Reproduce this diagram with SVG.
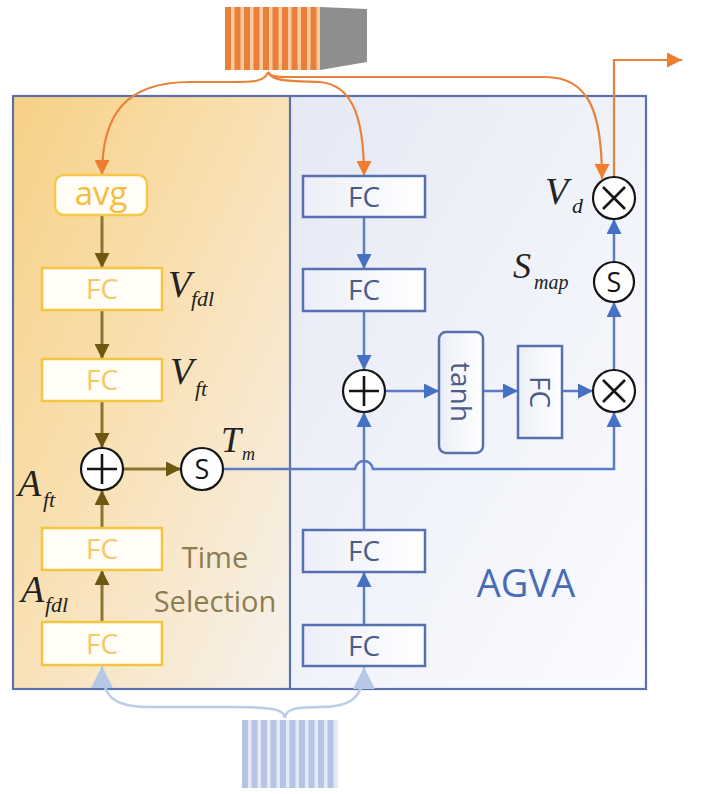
<svg xmlns="http://www.w3.org/2000/svg" width="702" height="794" viewBox="0 0 702 794">
<defs>
<linearGradient id="gLeft" x1="0" y1="0" x2="1" y2="1">
<stop offset="0" stop-color="#f7d085"/>
<stop offset="0.45" stop-color="#f9e0b2"/>
<stop offset="1" stop-color="#f6f2ee"/>
</linearGradient>
<linearGradient id="gRight" x1="0" y1="0" x2="1" y2="1">
<stop offset="0" stop-color="#e5e9f4"/>
<stop offset="1" stop-color="#fbfcff"/>
</linearGradient>
<linearGradient id="gBoxB" x1="0" y1="0" x2="1" y2="0">
<stop offset="0" stop-color="#eceff8"/>
<stop offset="1" stop-color="#ffffff"/>
</linearGradient>
<marker id="aO" viewBox="0 0 10 10" refX="10" refY="5" markerWidth="15" markerHeight="15" markerUnits="userSpaceOnUse" orient="auto"><path d="M0,0 L10,5 L0,10 z" fill="#ee7d2e"/></marker>
<marker id="aG" viewBox="0 0 10 10" refX="10" refY="5" markerWidth="15" markerHeight="15" markerUnits="userSpaceOnUse" orient="auto"><path d="M0,0 L10,5 L0,10 z" fill="#6e5712"/></marker>
<marker id="aB" viewBox="0 0 10 10" refX="10" refY="5" markerWidth="15" markerHeight="15" markerUnits="userSpaceOnUse" orient="auto"><path d="M0,0 L10,5 L0,10 z" fill="#4670c4"/></marker>
<marker id="aL" viewBox="0 0 10 10" refX="10" refY="5" markerWidth="22" markerHeight="22" markerUnits="userSpaceOnUse" orient="auto"><path d="M0,0 L10,5 L0,10 z" fill="#b5c8e5"/></marker>
<style>
.ybox{fill:#fffdf5;stroke:#f2c640;stroke-width:2.5}
.ytxt{font-family:"Open Sans","Liberation Sans",sans-serif;font-size:28px;fill:#f2c868;text-anchor:middle}
.bbox{fill:url(#gBoxB);stroke:#5670b0;stroke-width:2.5}
.btxt{font-family:"Open Sans","Liberation Sans",sans-serif;font-size:28px;fill:#4c5c86;text-anchor:middle}
.circ{fill:#ffffff;stroke:#151515;stroke-width:2.2}
.sym{stroke:#151515;stroke-width:2.6;fill:none}
.stxt{font-family:"Open Sans","Liberation Sans",sans-serif;font-size:27px;fill:#151515;text-anchor:middle}
.lab{font-family:"Liberation Serif",serif;font-style:italic;fill:#222}
.cO{fill:none;stroke:#e8823a;stroke-width:2.2}
.cG{fill:none;stroke:#8a7430;stroke-width:3}
.cB{fill:none;stroke:#5a7dc4;stroke-width:2.5}
.cL{fill:none;stroke:#bccde6;stroke-width:2.5}
</style>
</defs>

<!-- panels -->
<g id="panel-time">
<rect x="13" y="96" width="277" height="593" fill="url(#gLeft)"/>
<text x="215" y="568" font-family="'Open Sans','Liberation Sans',sans-serif" font-size="29" fill="#8c7d52" text-anchor="middle">Time</text>
<text x="215" y="612" font-family="'Open Sans','Liberation Sans',sans-serif" font-size="29" fill="#8c7d52" text-anchor="middle">Selection</text>
</g>
<g id="panel-agva">
<rect x="290" y="96" width="356" height="593" fill="url(#gRight)"/>
<text x="526" y="597" font-family="'Open Sans','Liberation Sans',sans-serif" font-size="38" fill="#4a6cb4" text-anchor="middle">AGVA</text>
</g>
<g id="frame" fill="none" stroke="#5a72ac" stroke-width="2.2">
<rect x="13" y="96" width="633" height="593"/>
<line x1="290" y1="96" x2="290" y2="689"/>
</g>

<!-- input features -->
<g id="feat-top">
<polygon points="320,7 367,9 367,62 320,70" fill="#8e8e8e"/>
<rect x="225" y="7" width="95" height="63" fill="#fbc8a0"/>
<g fill="#e8803a">
<rect x="225" y="7" width="6" height="63"/><rect x="234.5" y="7" width="6" height="63"/><rect x="244" y="7" width="6" height="63"/><rect x="253.5" y="7" width="6" height="63"/><rect x="263" y="7" width="6" height="63"/><rect x="272.5" y="7" width="6" height="63"/><rect x="282" y="7" width="6" height="63"/><rect x="291.5" y="7" width="6" height="63"/><rect x="301" y="7" width="6" height="63"/><rect x="310.5" y="7" width="6" height="63"/>
</g>
</g>
<g id="feat-bottom">
<rect x="242" y="720" width="96" height="68" fill="#e2e8f5"/>
<g fill="#b6c4e3">
<rect x="242" y="720" width="6" height="68"/><rect x="251.5" y="720" width="6" height="68"/><rect x="261" y="720" width="6" height="68"/><rect x="270.5" y="720" width="6" height="68"/><rect x="280" y="720" width="6" height="68"/><rect x="289.5" y="720" width="6" height="68"/><rect x="299" y="720" width="6" height="68"/><rect x="308.5" y="720" width="6" height="68"/><rect x="318" y="720" width="6" height="68"/><rect x="327.5" y="720" width="6" height="68"/>
</g>
</g>

<!-- connectors -->
<g id="connectors">
<path class="cO" d="M268,72 C265,82 252,82 232,82 L190,82 C125,82 102,115 102,175" marker-end="url(#aO)"/>
<path class="cO" d="M268,72 C272,82 292,81 320,82 C350,85 364,112 364,176" marker-end="url(#aO)"/>
<path class="cO" d="M268,72 C271,77 278,77 290,77 L545,77 C588,77 602,110 602,179" marker-end="url(#aO)"/>
<path class="cO" d="M614,177 L614,60 L682,60" marker-end="url(#aO)"/>

<path class="cG" d="M102,215 L102,268" marker-end="url(#aG)"/>
<path class="cG" d="M102,310 L102,359" marker-end="url(#aG)"/>
<path class="cG" d="M102,401 L102,448" marker-end="url(#aG)"/>
<path class="cG" d="M102,528 L102,490" marker-end="url(#aG)"/>
<path class="cG" d="M102,622 L102,570" marker-end="url(#aG)"/>
<path class="cG" d="M123,469 L181,469" marker-end="url(#aG)"/>

<path class="cB" d="M364,217 L364,269" marker-end="url(#aB)"/>
<path class="cB" d="M364,311 L364,370" marker-end="url(#aB)"/>
<path class="cB" d="M364,530 L364,412" marker-end="url(#aB)"/>
<path class="cB" d="M364,625 L364,572" marker-end="url(#aB)"/>
<path class="cB" d="M385,391 L439,391" marker-end="url(#aB)"/>
<path class="cB" d="M483,391 L518,391" marker-end="url(#aB)"/>
<path class="cB" d="M562,391 L593,391" marker-end="url(#aB)"/>
<path class="cB" d="M614,370 L614,302" marker-end="url(#aB)"/>
<path class="cB" d="M614,262 L614,219" marker-end="url(#aB)"/>
<path class="cB" d="M223,469 L355,469 Q357,461 364,461 Q371,461 373,469 L614,469 L614,412" marker-end="url(#aB)"/>

<path class="cL" d="M285,718 C285,708 265,707 230,707 L150,707 C112,707 102,696 102,666" marker-end="url(#aL)"/>
<path class="cL" d="M285,718 C285,708 300,707 320,707 C352,707 364,697 364,667" marker-end="url(#aL)"/>
</g>

<!-- Time selection branch -->
<g id="avg"><rect x="55" y="175" width="92" height="40" rx="9" fill="#fffdf5" stroke="#f4c848" stroke-width="2.5"/><text x="101" y="205" font-family="'Open Sans','Liberation Sans',sans-serif" font-size="33" fill="#f3bf3a" text-anchor="middle">avg</text></g>
<g id="fc-vfdl"><rect class="ybox" x="42" y="268" width="120" height="42"/><text class="ytxt" x="102" y="299">FC</text></g>
<g id="fc-vft"><rect class="ybox" x="42" y="359" width="120" height="42"/><text class="ytxt" x="102" y="390">FC</text></g>
<g id="add-left"><circle class="circ" cx="102" cy="469" r="21"/><path class="sym" d="M87,469 H117 M102,454 V484"/></g>
<g id="sig-left"><circle class="circ" cx="202" cy="469" r="21"/><text class="stxt" x="202" y="479">S</text></g>
<g id="fc-aft"><rect class="ybox" x="42" y="528" width="120" height="42"/><text class="ytxt" x="102" y="559">FC</text></g>
<g id="fc-afdl"><rect class="ybox" x="42" y="622" width="120" height="43"/><text class="ytxt" x="102" y="654">FC</text></g>

<!-- AGVA branch -->
<g id="fc-r1"><rect class="bbox" x="303" y="176" width="122" height="41"/><text class="btxt" x="364" y="207">FC</text></g>
<g id="fc-r2"><rect class="bbox" x="303" y="269" width="122" height="42"/><text class="btxt" x="364" y="300">FC</text></g>
<g id="add-right"><circle class="circ" cx="364" cy="391" r="21"/><path class="sym" d="M349,391 H379 M364,376 V406"/></g>
<g id="tanh"><rect class="bbox" x="439" y="332" width="44" height="121" rx="7"/><text class="btxt" transform="translate(461,392) rotate(90)" dy="10" font-size="32">tanh</text></g>
<g id="fc-rot"><rect class="bbox" x="518" y="346" width="44" height="92"/><text class="btxt" transform="translate(540,392) rotate(90)" dy="10">FC</text></g>
<g id="mul-mid"><circle class="circ" cx="614" cy="391" r="21"/><path class="sym" d="M603,380 L625,402 M625,380 L603,402"/></g>
<g id="sig-right"><circle class="circ" cx="614" cy="282" r="20"/><text class="stxt" x="614" y="292">S</text></g>
<g id="mul-top"><circle class="circ" cx="614" cy="198" r="21"/><path class="sym" d="M603,187 L625,209 M625,187 L603,209"/></g>
<g id="fc-r3"><rect class="bbox" x="303" y="530" width="122" height="42"/><text class="btxt" x="364" y="561">FC</text></g>
<g id="fc-r4"><rect class="bbox" x="303" y="625" width="122" height="41"/><text class="btxt" x="364" y="656">FC</text></g>

<!-- labels -->
<g id="labels">
<text class="lab" x="168" y="297" font-size="38">V</text><text class="lab" x="191" y="306" font-size="22">fdl</text>
<text class="lab" x="170" y="384" font-size="38">V</text><text class="lab" x="195" y="396" font-size="22">ft</text>
<text class="lab" x="221" y="452" font-size="36">T</text><text class="lab" x="242" y="460" font-size="18">m</text>
<text class="lab" x="18" y="496" font-size="38">A</text><text class="lab" x="43" y="507" font-size="22">ft</text>
<text class="lab" x="21" y="602" font-size="38">A</text><text class="lab" x="45" y="612" font-size="22">fdl</text>
<text class="lab" x="545" y="204" font-size="38">V</text><text class="lab" x="572" y="213" font-size="22">d</text>
<text class="lab" x="513" y="278" font-size="36">S</text><text class="lab" x="534" y="289" font-size="20">map</text>
</g>
</svg>
